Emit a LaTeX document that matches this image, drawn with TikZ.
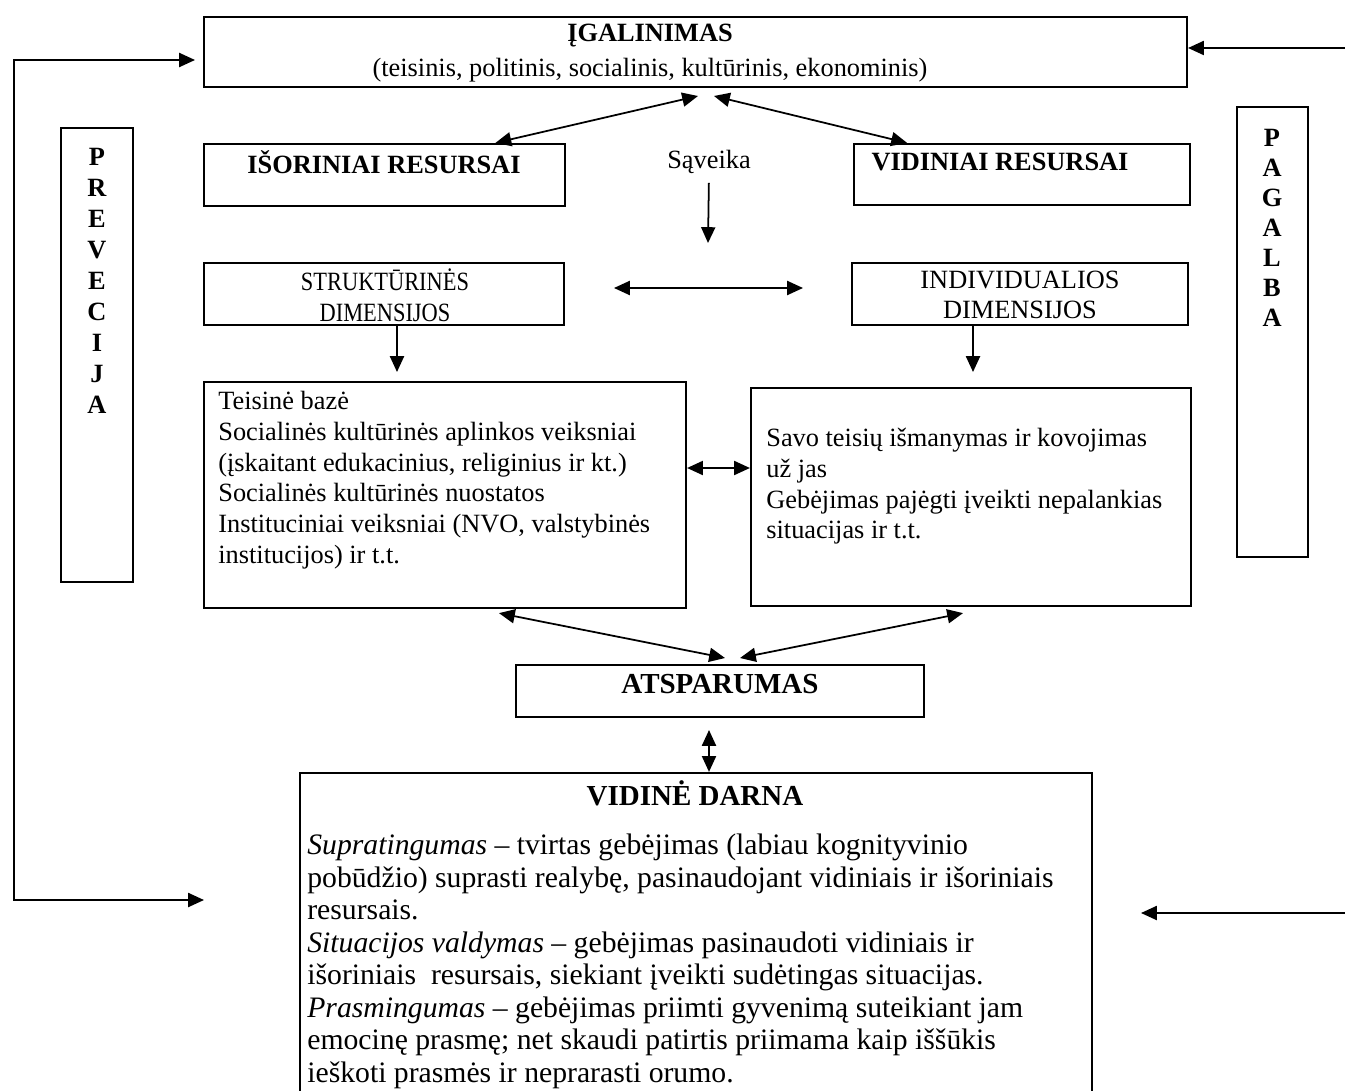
\documentclass[tikz,border=0pt]{standalone}
\usepackage{fontspec}
\setmainfont{Liberation Serif}
\usetikzlibrary{arrows.meta,positioning,calc}

\begin{document}
\begin{tikzpicture}[x=0.02cm, y=-0.02cm,
    box/.style={draw, line width=1.3pt, inner sep=0pt},
    txt/.style={inner sep=0pt, font=\fontsize{15}{17.5}\selectfont},
    head/.style={inner sep=0pt, font=\bfseries\fontsize{15}{17.5}\selectfont},
    bighead/.style={inner sep=0pt, font=\bfseries\fontsize{16.5}{19}\selectfont},
    edge/.style={{Triangle[length=9pt,width=8pt]}-{Triangle[length=9pt,width=8pt]}, line width=1pt},
    arr/.style={-{Triangle[length=9pt,width=8pt]}, line width=1pt}
]
    \useasboundingbox (0,0) rectangle (1345,1091);
    \clip (0,0) rectangle (1345,1091);

    \node[box, minimum width=19.66cm, minimum height=1.4cm] (igal) at (695.5,52) {};
    \node[box, minimum width=7.22cm, minimum height=1.24cm] (isor) at (384.5,175) {};
    \node[box, minimum width=6.72cm, minimum height=1.22cm] (vidr) at (1022,174.5) {};
    \node[box, minimum width=1.44cm, minimum height=9.08cm] (prev) at (97,355) {};
    \node[box, minimum width=1.42cm, minimum height=9.0cm] (pag) at (1272.5,332) {};
    \node[box, minimum width=7.2cm, minimum height=1.24cm] (strk) at (384,294) {};
    \node[box, minimum width=6.72cm, minimum height=1.24cm] (indv) at (1020,294) {};
    \node[box, minimum width=9.64cm, minimum height=4.52cm] (teis) at (445,495) {};
    \node[box, minimum width=8.8cm, minimum height=4.36cm] (savo) at (971,497) {};
    \node[box, minimum width=8.16cm, minimum height=1.04cm] (atsp) at (720,691) {};
    \node[box, minimum width=15.84cm, minimum height=6.54cm] (vdarna) at (696,936.5) {};

    \node[txt, align=center] (igalt) at (650,53) {\textbf{ĮGALINIMAS}\\[2pt](teisinis, politinis, socialinis, kultūrinis, ekonominis)};
    \node[head] (isort) at (384,162) {IŠORINIAI RESURSAI};
    \node[head] (vidrt) at (1000,162) {VIDINIAI RESURSAI};
    \node[txt] (saveika) at (709,162) {Sąveika};
    \node[txt, align=center] (strkt) at (385,295) {\scalebox{0.85}[1]{STRUKTŪRINĖS}\\\scalebox{0.85}[1]{DIMENSIJOS}};
    \node[txt, align=center] (indvt) at (1020,295) {INDIVIDUALIOS\\DIMENSIJOS};
    \node[head, align=center, font=\bfseries\fontsize{15}{17.6}\selectfont] (prevt) at (97,281) {P\\R\\E\\V\\E\\C\\I\\J\\A};
    \node[head, align=center, font=\bfseries\fontsize{15}{17.1}\selectfont] (pagt) at (1272,228) {P\\A\\G\\A\\L\\B\\A};
    \node[txt, align=left, anchor=north west] (teist) at (218,391) {Teisinė bazė\\
        Socialinės kultūrinės aplinkos veiksniai\\
        (įskaitant edukacinius, religinius ir kt.)\\
        Socialinės kultūrinės nuostatos\\
        Instituciniai veiksniai (NVO, valstybinės\\
        institucijos) ir t.t.};
    \node[txt, align=left, anchor=north west] (savot) at (766,428) {Savo teisių išmanymas ir kovojimas\\
        už jas\\
        Gebėjimas pajėgti įveikti nepalankias\\
        situacijas ir t.t.};
    \node[bighead] (atspt) at (720,684) {ATSPARUMAS};
    \node[bighead] (vdarnat) at (695,793) {VIDINĖ DARNA};
    \node[txt, align=left, anchor=north west, font=\fontsize{16.9}{18.5}\selectfont] (vdarnab) at (307,834) {\textit{Supratingumas} -- tvirtas gebėjimas (labiau kognityvinio\\
        pobūdžio) suprasti realybę, pasinaudojant vidiniais ir išoriniais\\
        resursais.\\
        \textit{Situacijos valdymas} -- gebėjimas pasinaudoti vidiniais ir\\
        išoriniais\ \ resursais, siekiant įveikti sudėtingas situacijas.\\
        \textit{Prasmingumas} -- gebėjimas priimti gyvenimą suteikiant jam\\
        emocinę prasmę; net skaudi patirtis priimama kaip iššūkis\\
        ieškoti prasmės ir neprarasti orumo.};

    \coordinate (ig1) at (698,96);
    \coordinate (ig2) at (714,96);
    \coordinate (sv) at (708,243);
    \coordinate (hl) at (614,288);
    \coordinate (hr) at (803,288);
    \coordinate (sa) at (397,372);
    \coordinate (ia) at (973,372);
    \coordinate (ts) at (0,468);
    \coordinate (ap1) at (725,658);
    \coordinate (ap2) at (740,658);
    \coordinate (av) at (709,730);
    \coordinate (lt) at (195,60);
    \coordinate (lc) at (14,480);
    \coordinate (lb) at (204,900);
    \coordinate (rt) at (1345,48);
    \coordinate (rb) at (1345,913);
    \coordinate (rbt) at (1141,913);

    \draw[edge] (ig1) -- ([xshift=2.22cm]isor.north);
    \draw[edge] (ig2) -- ([xshift=-2.3cm]vidr.north);
    \draw[arr, shorten <=5pt] (saveika.south) -- (sv);
    \draw[edge] (hl) -- (hr);
    \draw[arr] (strk.south -| sa) -- (sa);
    \draw[arr] (indv.south -| ia) -- (ia);
    \draw[edge] (teis.east |- ts) -- (savo.west |- ts);
    \draw[edge] ([xshift=1.08cm,yshift=-0.08cm]teis.south) -- (ap1);
    \draw[edge] (ap2) -- ([xshift=-0.16cm,yshift=-0.12cm]savo.south);
    \draw[edge] (av) -- (av |- vdarna.north);
    \draw[edge] (lt) -| (lc) |- (lb);
    \draw[arr] (rt) -- (igal.east |- rt);
    \draw[arr] (rb) -- (rbt);
\end{tikzpicture}
\end{document}
